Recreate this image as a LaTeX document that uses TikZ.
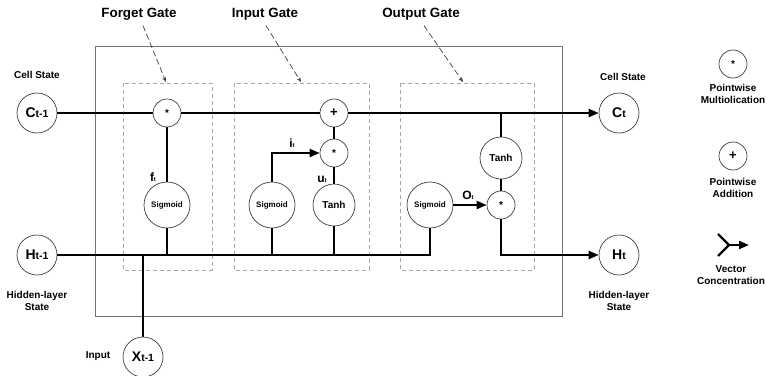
\documentclass[tikz,border=0pt]{standalone}
\usepackage{fontspec}
\setmainfont{Liberation Sans}
\usetikzlibrary{arrows.meta}
\newcommand{\statelbl}[2]{{\fontsize{14}{14}\selectfont #1}{\fontsize{10.5}{10.5}\selectfont #2}}
\newcommand{\gatelbl}[2]{{\fontsize{12}{12}\selectfont #1}{\fontsize{6}{6}\selectfont #2}}
\tikzset{
  state/.style={circle, draw=black!75, line width=0.7pt, fill=white, minimum size=40pt, inner sep=0pt, font=\bfseries},
  sigm/.style={circle, draw=black!75, line width=0.7pt, fill=white, minimum size=46pt, inner sep=0pt, font=\bfseries\fontsize{8}{8}\selectfont},
  tanhgate/.style={circle, draw=black!75, line width=0.7pt, fill=white, minimum size=42pt, inner sep=0pt, font=\bfseries\fontsize{10}{10}\selectfont},
  op/.style={circle, draw=black!75, line width=0.7pt, fill=white, minimum size=28pt, inner sep=0pt, font=\bfseries\fontsize{10}{10}\selectfont},
  flow/.style={line width=2.2pt},
  tip/.style={-{Triangle[length=10pt,width=8pt]}},
  gatebox/.style={draw=black!35, line width=0.8pt, dash pattern=on 4pt off 3pt},
  pointer/.style={draw=black!75, line width=0.7pt, dash pattern=on 6pt off 3pt, -{Stealth[length=5pt,width=4pt]}},
  caption/.style={font=\bfseries\fontsize{10}{12}\selectfont, align=center},
  title/.style={font=\bfseries\fontsize{13.4}{14}\selectfont},
}
\begin{document}
\begin{tikzpicture}[x=1pt, y=-1pt]
            \useasboundingbox (0,0) rectangle (766,375);
            % Cell box and gate boxes
            \draw [black!55, line width=0.9pt] (95,46) rectangle (562,316);
            \draw [gatebox] (123,83) rectangle (212,270);
            \draw [gatebox] (234,83) rectangle (369,270);
            \draw [gatebox] (400,83) rectangle (534,270);
            % Gate titles
            \node [title] (forgettitle) at (139,14) {Forget Gate};
            \node [title] (inputtitle) at (265,14) {Input Gate};
            \node [title] (outputtitle) at (421,14) {Output Gate};
            \coordinate (forgetbox) at (166,82);
            \coordinate (inputbox) at (301,82);
            \coordinate (outputbox) at (463,82);
            \draw [pointer] (forgettitle.south) ++(4,2) -- (forgetbox);
            \draw [pointer] (inputtitle.south) ++(1,2) -- (inputbox);
            \draw [pointer] (outputtitle.south) ++(3,2) -- (outputbox);
            % States
            \node [state] (Cprev) at (37,113) {\statelbl{C}{t-1}};
            \node [state] (Hprev) at (37,255) {\statelbl{H}{t-1}};
            \node [state] (Xprev) at (143,357) {\statelbl{X}{t-1}};
            \node [state] (Cnext) at (619,113) {\statelbl{C}{t}};
            \node [state] (Hnext) at (619,255) {\statelbl{H}{t}};
            \node [caption] (cellL) at (37,75) {Cell State};
            \node [caption] (cellR) at (623,77) {Cell State};
            \node [caption] (hiddenL) at (37,301) {Hidden-layer\\State};
            \node [caption] (hiddenR) at (619,301) {Hidden-layer\\State};
            \node [caption] (inputlbl) at (98,356) {Input};
            % Forget gate
            \node [op] (fmul) at (167,113) {*};
            \node [sigm] (fsig) at (167,205) {Sigmoid};
            \node (ft) at (153,177) {\bfseries\gatelbl{f}{t}};
            % Input gate
            \node [op] (iadd) at (334,113) {\fontsize{13}{13}\selectfont +};
            \node [op] (imul) at (334,153) {*};
            \node [sigm] (isig) at (272,205) {Sigmoid};
            \node [tanhgate] (itanh) at (334,205) {Tanh};
            \node (it) at (292,143) {\bfseries\gatelbl{i}{t}};
            \node (ut) at (322,179) {\bfseries\gatelbl{u}{t}};
            % Output gate
            \node [sigm] (osig) at (430,205) {Sigmoid};
            \node [op] (omul) at (501,205) {*};
            \node [tanhgate] (otanh) at (501,158) {Tanh};
            \node (ot) at (468,195) {\bfseries\gatelbl{O}{t}};
            % Cell state line
            \draw [flow, tip] (Cprev) -- (fmul) -- (iadd) -- (Cnext);
            % Hidden state line
            \draw [flow] (Hprev) -| (osig);
            \draw [flow] (Xprev) -- (Xprev |- Hprev);
            \draw [flow] (fsig) -- (fsig |- Hprev);
            \draw [flow] (isig) -- (isig |- Hprev);
            \draw [flow] (itanh) -- (itanh |- Hprev);
            % Gate connections
            \draw [flow] (fsig) -- (fmul);
            \draw [flow, tip] (isig) |- (imul);
            \draw [flow] (itanh) -- (imul) -- (iadd);
            \draw [flow, tip] (osig) -- (omul);
            \draw [flow] (otanh) -- (otanh |- Cnext);
            \draw [flow] (otanh) -- (omul);
            \draw [flow, tip] (omul) |- (Hnext);
            % Legend
            \node [op] (mulkey) at (733,64) {*};
            \node [caption] (mullbl) at (733,94) {Pointwise\\Multiolication};
            \node [op] (addkey) at (733,156) {\fontsize{13}{13}\selectfont +};
            \node [caption] (addlbl) at (733,188) {Pointwise\\Addition};
            \coordinate (forkA) at (718,234);
            \coordinate (forkB) at (718,256);
            \coordinate (forkC) at (729,245);
            \coordinate (forkD) at (749,245);
            \draw [flow] (forkA) -- (forkC) -- (forkB);
            \draw [flow, tip] (forkC) -- (forkD);
            \node [caption] (veclbl) at (731,275) {Vector\\Concentration};
        \end{tikzpicture}
\end{document}
